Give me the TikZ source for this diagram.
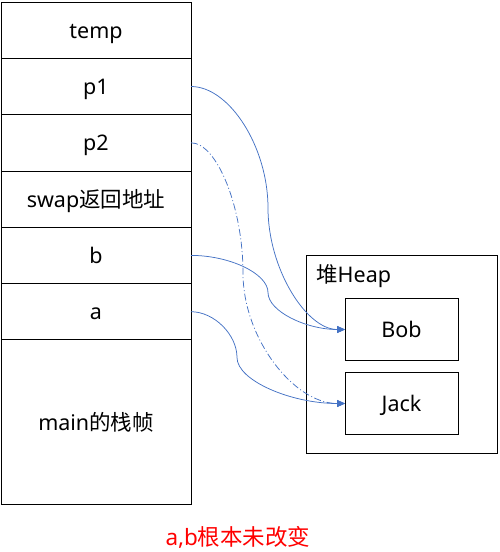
\documentclass[tikz,border=0pt]{standalone}
\usepackage{fontspec}
\setmainfont{Noto Sans}
\newfontfamily\cjk{Noto Sans CJK SC}
\usetikzlibrary{arrows.meta,positioning}
\definecolor{ptrblue}{HTML}{4472C4}
\tikzset{
  cell/.style={draw,line width=0.8pt,minimum width=190pt,minimum height=56.3pt,inner sep=0pt,outer sep=0pt,text height=18pt,text depth=2pt},
  obj/.style={draw,line width=0.8pt,minimum width=113pt,minimum height=61.5pt,inner sep=0pt,outer sep=0pt,text height=18pt,text depth=2pt},
  ptr/.style={ptrblue,line width=0.75pt,-{Triangle[length=8pt,width=7pt]}},
  ptrdd/.style={ptr,dash pattern=on 7pt off 2.5pt on 1pt off 2.5pt}
}

\begin{document}
\begin{tikzpicture}[x=1pt,y=-1pt,font=\fontsize{21.5}{25}\selectfont]
\useasboundingbox (0,0) rectangle (499,552);
% stack frame of swap
\node[cell] (temp) at (96,30.2) {temp};
\node[cell,below=0pt of temp] (p1) {p1};
\node[cell,below=0pt of p1] (p2) {p2};
\node[cell,below=0pt of p2] (ret) {swap{\cjk 返回地址}};
\node[cell,below=0pt of ret] (b) {b};
\node[cell,below=0pt of b] (a) {a};
\node[cell,below=0pt of a,minimum height=165pt] (main) {main{\cjk 的栈帧}};
% heap
\node[draw,line width=0.8pt,minimum width=191pt,minimum height=198pt,inner sep=0pt] (heap) at (401.5,354) {};
\node[anchor=west,inner sep=0pt] (heaplbl) at (316,276) {{\cjk 堆}Heap};
\node[obj] (bob) at (401.5,329.5) {Bob};
\node[obj,below=12.5pt of bob] (jack) {Jack};
% pointers
\draw[ptr] (p1.east) .. controls +(38.5,0) and +(0,-61) .. (268,208)
  .. controls +(0,61) and +(-38.5,0) .. (bob.west);
\draw[ptrdd] (p2.east) .. controls +(26,0) and +(0,-65.5) .. (243,273)
  .. controls +(0,65.5) and +(-51,0) .. (jack.west);
\draw[ptr] (b.east) .. controls +(38.5,0) and +(0,-19) .. (268,292.5)
  .. controls +(0,19) and +(-38.5,0) .. (bob.west);
\draw[ptr] (a.east) .. controls +(23,0) and +(0,-23) .. (237,357.5)
  .. controls +(0,23) and +(-54,0) .. (jack.west);
\node[text=red,inner sep=0pt,font=\fontsize{22.5}{26}\selectfont] (note) at (238,537.5) {a,b{\cjk 根本未改变}};
\end{tikzpicture}
\end{document}
